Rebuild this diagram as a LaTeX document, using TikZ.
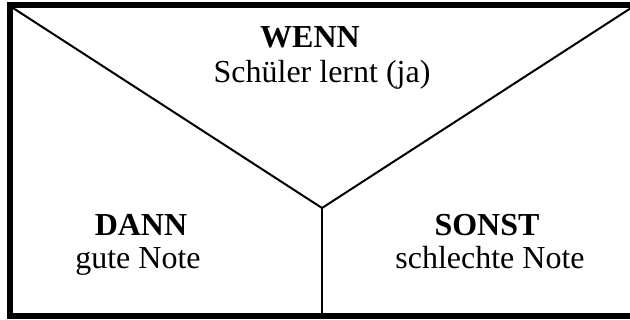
\documentclass[tikz,border=0pt]{standalone}
\usepackage{fontspec}
\setmainfont{Liberation Serif}
\usepackage{tikz}

\begin{document}
\begin{tikzpicture}[x=0.5pt, y=-0.5pt, every node/.style={anchor=base, inner sep=0pt, font=\fontsize{16}{19}\selectfont}]
\useasboundingbox (0, 0) rectangle (630, 320);
\clip (0, 0) rectangle (630, 320);
\draw[line width=3pt] (10, 5) rectangle (634, 316);
\coordinate (links) at (13, 8);
\coordinate (rechts) at (631, 8);
\coordinate (mitte) at (322, 208);
\coordinate (unten) at (322, 313);
\draw[line width=1pt] (links) -- (mitte) -- (rechts);
\draw[line width=1pt] (mitte) -- (unten);
\node (wenn) at (310, 48) {\textbf{WENN}};
\node (bedingung) at (322, 83) {Schüler lernt (ja)};
\node (dann) at (141, 235) {\textbf{DANN}};
\node (gut) at (138, 268) {gute Note};
\node (sonst) at (487, 235) {\textbf{SONST}};
\node (schlecht) at (490, 268) {schlechte Note};
\end{tikzpicture}
\end{document}
